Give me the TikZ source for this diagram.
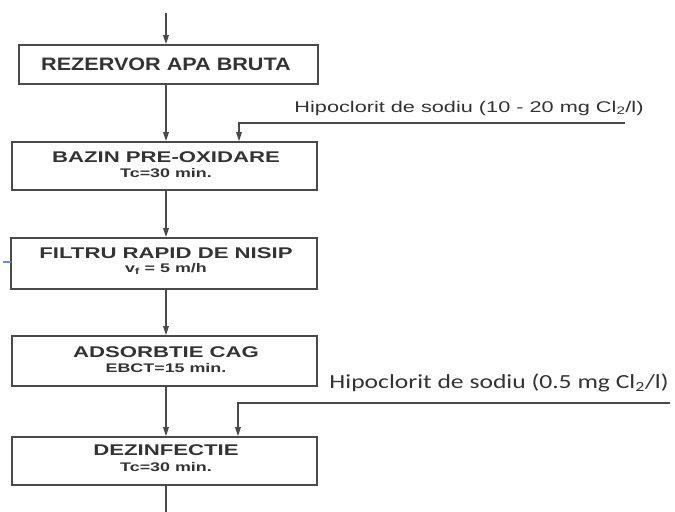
\documentclass[tikz,border=0pt]{standalone}
\usepackage{fontspec}
\usetikzlibrary{arrows.meta}
\setmainfont{Liberation Sans}
\newfontfamily\boxfontA[FakeStretch=1.2]{Liberation Sans}
\newfontfamily\boxfontB[FakeStretch=1.43]{Liberation Sans}
\newfontfamily\labfontA[FakeStretch=1.4]{Liberation Sans}
\newfontfamily\labfontB[FakeStretch=1.28]{Carlito}
\definecolor{ln}{HTML}{4A4A4A}
\definecolor{tx}{HTML}{333333}
\tikzset{
  x=1bp, y=-1bp,
  stepbox/.style={draw=ln, line width=1.6bp, inner sep=0pt, text=tx, align=center},
  flow/.style={draw=ln, line width=1.5bp, -{Triangle[length=9bp,width=5.5bp]}},
  feed/.style={draw=ln, line width=1.3bp, -{Triangle[length=9bp,width=5.5bp]}},
  ttlA/.style={font=\boxfontA\bfseries\fontsize{18bp}{20bp}\selectfont},
  ttl/.style={font=\boxfontB\bfseries\fontsize{15.5bp}{17bp}\selectfont},
  sub/.style={font=\boxfontB\bfseries\fontsize{12.5bp}{14bp}\selectfont},
  txt/.style={text=tx, inner sep=0pt, anchor=center}
}
\begin{document}
\begin{tikzpicture}
\useasboundingbox (0,0) rectangle (675,512);
% boxes
\node[stepbox, minimum width=299bp, minimum height=39bp] (b1) at (168.5,64.5) {};
\node[stepbox, minimum width=305bp, minimum height=48bp] (b2) at (164.5,166) {};
\node[stepbox, minimum width=306bp, minimum height=51bp] (b3) at (164,263.5) {};
\node[stepbox, minimum width=305bp, minimum height=50bp] (b4) at (164.5,361) {};
\node[stepbox, minimum width=305bp, minimum height=48bp] (b5) at (164.5,461) {};
% box texts
\node[txt, ttlA] (t1) at (166,64) {REZERVOR APA BRUTA};
\node[txt, ttl] (t2) at (166,157) {BAZIN PRE-OXIDARE};
\node[txt, sub] (s2) at (166,173) {Tc=30 min.};
\node[txt, ttl] (t3) at (166,253) {FILTRU RAPID DE NISIP};
\node[txt, sub] (s3) at (166,269) {v\textsubscript{f} = 5 m/h};
\node[txt, ttl] (t4) at (166,352) {ADSORBTIE CAG};
\node[txt, sub] (s4) at (166,368) {EBCT=15 min.};
\node[txt, ttl] (t5) at (166,450) {DEZINFECTIE};
\node[txt, sub] (s5) at (166,467) {Tc=30 min.};
% labels
\node[txt, font=\labfontA\fontsize{15.5bp}{18bp}\selectfont] (l1) at (469,108) {Hipoclorit de sodiu (10 - 20 mg Cl\textsubscript{2}/l)};
\node[txt, font=\labfontB\fontsize{20bp}{23bp}\selectfont] (l2) at (499,383) {Hipoclorit de sodiu (0.5 mg Cl\textsubscript{2}/l)};
% coordinates
\coordinate (in) at (166,13);
\coordinate (out) at (166,512);
\coordinate (f1) at (625,123);
\coordinate (f1c) at (239,123);
\coordinate (f2) at (670,403);
\coordinate (f2c) at (238,403);
% main flow
\draw[flow] (in) -- (in |- b1.north);
\draw[flow] (166,84) -- (in |- b2.north);
\draw[flow] (in |- b2.south) -- (in |- b3.north);
\draw[flow] (in |- b3.south) -- (in |- b4.north);
\draw[flow] (in |- b4.south) -- (in |- b5.north);
\draw[draw=ln, line width=1.5bp] (in |- b5.south) -- (out);
% feeds
\draw[feed] (f1) -- (f1c) -- (f1c |- b2.north);
\draw[feed] (f2) -- (f2c) -- (f2c |- b5.north);
% small blue mark
\draw[draw={rgb,255:red,120;green,140;blue,190}, line width=2bp] (3,262) -- (11,262);
\end{tikzpicture}
\end{document}
